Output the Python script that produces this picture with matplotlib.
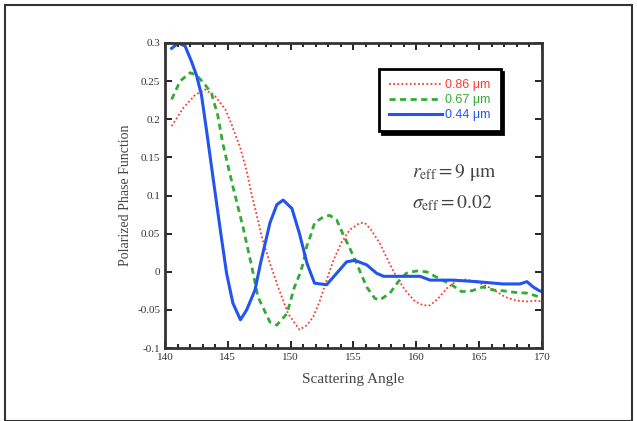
import matplotlib
matplotlib.use("Agg")
import matplotlib.pyplot as plt
from matplotlib.ticker import MultipleLocator
from matplotlib.patches import Rectangle

x_044 = [140.53, 141.06, 141.6, 142.1, 142.5, 142.9, 143.3, 143.85, 144.4, 144.9, 145.4, 146.0, 146.5,
         147.16, 147.6, 148.35, 148.9, 149.4, 150.1, 150.7, 151.3, 151.9, 152.86, 153.66, 154.45, 155.1,
         156.05, 156.84, 157.4, 158.7, 160.3, 161.1, 162.9, 164.8, 166.9, 168.24, 168.8, 169.3, 169.8, 170.0]
y_044 = [0.293, 0.300, 0.296, 0.276, 0.258, 0.232, 0.186, 0.120, 0.055, -0.002, -0.041, -0.063, -0.050,
         -0.024, 0.011, 0.064, 0.088, 0.094, 0.083, 0.050, 0.011, -0.015, -0.017, -0.002, 0.013, 0.015,
         0.009, -0.002, -0.006, -0.006, -0.006, -0.011, -0.011, -0.013, -0.016, -0.016, -0.013, -0.020, -0.025, -0.026]

x_067 = [140.53, 141.2, 142.0, 142.5, 143.2, 143.7, 144.2, 144.6, 145.4, 146.2, 146.9, 147.4,
         148.35, 148.9, 149.7, 150.3, 150.7, 151.0, 151.27, 151.6, 151.9, 152.6, 153.1, 153.66, 154.2,
         154.7, 155.4, 156.05, 156.7, 157.1, 157.9, 158.56, 159.2, 160.0, 160.8, 161.6, 162.8, 163.6,
         164.4, 165.3, 166.1, 166.9, 167.8, 168.8, 169.6, 170.0]
y_067 = [0.226, 0.250, 0.261, 0.258, 0.245, 0.234, 0.205, 0.168, 0.112, 0.059, 0.007, -0.033,
         -0.066, -0.070, -0.055, -0.020, -0.004, 0.011, 0.033, 0.048, 0.064, 0.072, 0.074, 0.068, 0.048,
         0.031, 0.005, -0.020, -0.035, -0.037, -0.028, -0.013, -0.002, 0.001, 0.000, -0.007, -0.017, -0.026,
         -0.025, -0.020, -0.024, -0.025, -0.027, -0.028, -0.032, -0.033]

x_086 = [140.53, 141.46, 142.4, 143.2, 144.0, 144.8, 145.3, 146.0, 146.5, 146.9, 147.2, 147.7, 148.35,
         149.0, 149.8, 150.7, 151.3, 151.8, 152.3, 152.86, 153.4, 154.06, 154.7, 155.5, 155.9, 156.4,
         157.1, 157.8, 158.4, 159.1, 159.9, 160.55, 161.1, 161.75, 162.4, 163.2, 164.0, 165.06, 166.0,
         167.05, 168.0, 168.8, 169.6, 170.0]
y_086 = [0.191, 0.215, 0.232, 0.239, 0.230, 0.213, 0.193, 0.162, 0.132, 0.101, 0.081, 0.046, 0.011,
         -0.020, -0.055, -0.076, -0.070, -0.059, -0.039, -0.011, 0.015, 0.039, 0.055, 0.064, 0.064, 0.055,
         0.037, 0.013, -0.006, -0.024, -0.039, -0.044, -0.044, -0.035, -0.022, -0.012, -0.010, -0.015, -0.022,
         -0.033, -0.038, -0.039, -0.038, -0.039]

y_ticks = [0.3, 0.25, 0.2, 0.15, 0.1, 0.05, 0, -0.05, -0.1]
y_tick_labels = ["0.3", "0.25", "0.2", "0.15", "0.1", "0.05", "0", "-0.05", "-0.1"]
x_ticks = [140, 145, 150, 155, 160, 165, 170]

plt.rcParams['mathtext.fontset'] = 'stix'
serif = 'Liberation Serif'

fig = plt.figure(figsize=(6.37, 4.21), dpi=100)
fig.patches.append(Rectangle((5/637, 0), 627/637, 416/421, transform=fig.transFigure,
                             fill=False, edgecolor='#333333', lw=1.5))
ax = fig.add_axes([165/637, 1-348/421, 377/637, 305/421])

ax.plot(x_086, y_086, color='#ff3b2f', ls=(0, (1, 1.3)), lw=1.3, label='0.86 μm')
ax.plot(x_067, y_067, color='#33aa33', ls=(0, (2.2, 1.6)), lw=2.0, label='0.67 μm')
ax.plot(x_044, y_044, color='#2255ee', ls='-', lw=2.2, label='0.44 μm')

ax.set_xlim(140, 170)
ax.set_ylim(-0.1, 0.3)
ax.set_xticks(x_ticks)
ax.set_yticks(y_ticks)
ax.set_yticklabels(y_tick_labels)
ax.xaxis.set_minor_locator(MultipleLocator(1))
ax.tick_params(which='both', direction='in', top=True, right=True, width=1.2)
ax.tick_params(which='major', length=5, labelsize=8)
ax.tick_params(which='minor', length=3)
for lab in ax.get_xticklabels() + ax.get_yticklabels():
    lab.set_family(serif)
    lab.set_color('#333333')
for s in ax.spines.values():
    s.set_linewidth(2)
    s.set_color('#333333')

ax.set_xlabel('Scattering Angle', family=serif, fontsize=11, color='#444444', labelpad=8)
ax.set_ylabel('Polarized Phase Function', family=serif, fontsize=10, color='#444444', labelpad=4)

leg = ax.legend(loc='upper right', bbox_to_anchor=(0.907, 0.934), frameon=True, fancybox=False,
                shadow={'color': 'black', 'alpha': 1}, handlelength=4.2, handletextpad=0.3,
                borderpad=0.8, labelspacing=0.22, prop={'family': 'Liberation Sans', 'size': 9})
leg.get_frame().set_edgecolor('black')
leg.get_frame().set_linewidth(2)
for t, c in zip(leg.get_texts(), ['#ff3b2f', '#33aa33', '#2255ee']):
    t.set_color(c)

ax.text(0.655, 0.575, r'$r_{\mathrm{eff}} = 9\ \mathrm{\mu m}$', transform=ax.transAxes,
        fontsize=14, color='#444444', va='center')
ax.text(0.655, 0.475, r'$\sigma_{\mathrm{eff}} = 0.02$', transform=ax.transAxes,
        fontsize=14, color='#444444', va='center')

fig.savefig('out.png', dpi=100)
